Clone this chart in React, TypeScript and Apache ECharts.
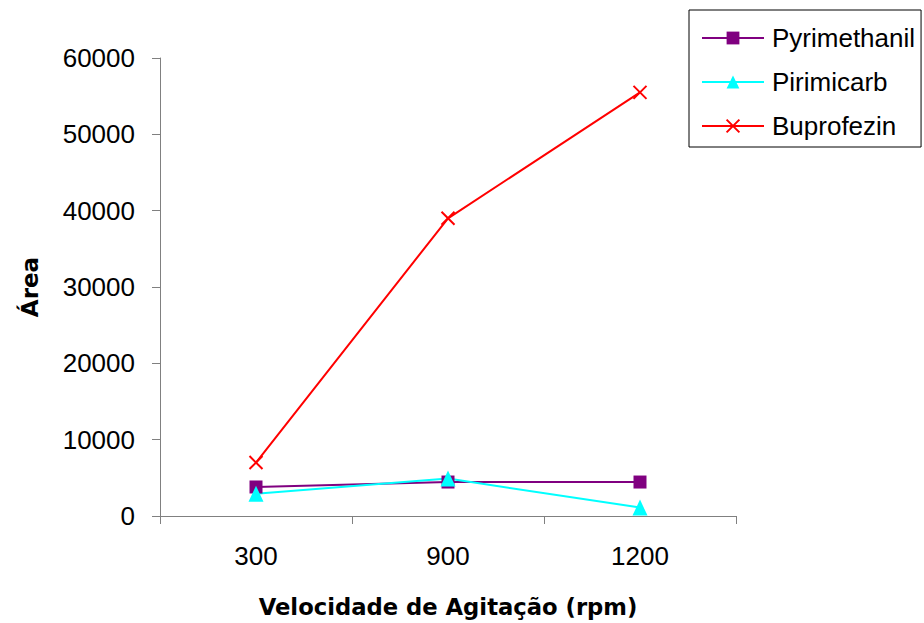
import React, { useEffect, useRef } from "react";
import * as echarts from "echarts";

const categories = ["300", "900", "1200"];
const seriesNames = ["Pyrimethanil", "Pirimicarb", "Buprofezin"];
const pyrimethanil = [3800, 4450, 4450];
const pirimicarb = [2900, 4900, 1100];
const buprofezin = [7000, 39000, 55500];
const yTicks = { min: 0, max: 60000, interval: 10000 };

const FONT = "Liberation Sans, Arial, sans-serif";
const TITLE_FONT = "DejaVu Sans, Liberation Sans, Arial, sans-serif";

export default function App() {
  const ref = useRef<HTMLDivElement>(null);
  useEffect(() => {
    if (!ref.current) return;
    const chart = echarts.init(ref.current, null, { renderer: "svg" });
    const crossPath = "path://M0,0L10,10M10,0L0,10";
    chart.setOption({
      animation: false,
      backgroundColor: "#ffffff",
      grid: { left: 160, top: 58, right: 188, bottom: 106, containLabel: false },
      legend: {
        orient: "vertical",
        left: 689,
        top: 10,
        padding: [15, 6, 8, 12],
        itemGap: 18,
        itemWidth: 62,
        itemHeight: 16,
        borderColor: "#000000",
        borderWidth: 1,
        textStyle: { fontFamily: FONT, fontSize: 26, color: "#000", padding: [0, 0, 0, 3] },
        data: seriesNames,
      },
      xAxis: {
        type: "category",
        data: categories,
        boundaryGap: true,
        name: "Velocidade de Agitação (rpm)",
        nameLocation: "middle",
        nameGap: 79,
        nameTextStyle: { fontFamily: TITLE_FONT, fontSize: 22.7, fontWeight: "bold", color: "#000" },
        axisLine: { lineStyle: { color: "#808080", width: 1 } },
        axisTick: { show: true, length: 8, lineStyle: { color: "#808080" } },
        axisLabel: { fontFamily: FONT, fontSize: 26, color: "#000", margin: 27 },
        splitLine: { show: false },
      },
      yAxis: {
        type: "value",
        min: yTicks.min,
        max: yTicks.max,
        interval: yTicks.interval,
        name: "Área",
        nameLocation: "middle",
        nameGap: 119,
        nameRotate: 90,
        nameTextStyle: { fontFamily: TITLE_FONT, fontSize: 23, fontWeight: "bold", color: "#000" },
        axisLine: { show: true, lineStyle: { color: "#808080", width: 1 } },
        axisTick: { show: true, length: 8, lineStyle: { color: "#808080" } },
        axisLabel: {
          fontFamily: FONT,
          fontSize: 26,
          color: "#000",
          margin: 25,
          formatter: (v: number) => String(v),
        },
        splitLine: { show: false },
      },
      series: [
        {
          name: seriesNames[0],
          type: "line",
          data: pyrimethanil,
          symbol: "rect",
          symbolSize: 13,
          lineStyle: { color: "#800080", width: 2 },
          itemStyle: { color: "#800080" },
        },
        {
          name: seriesNames[1],
          type: "line",
          data: pirimicarb,
          symbol: "triangle",
          symbolSize: [15, 16],
          lineStyle: { color: "#00FFFF", width: 2 },
          itemStyle: { color: "#00FFFF" },
        },
        {
          name: seriesNames[2],
          type: "line",
          data: buprofezin,
          symbol: crossPath,
          symbolSize: 13,
          lineStyle: { color: "#FF0000", width: 2 },
          itemStyle: { color: "transparent", borderColor: "#FF0000", borderWidth: 2 },
        },
      ],
    });
    return () => chart.dispose();
  }, []);
  return (
    <div
      ref={ref}
      style={{ position: "fixed", left: 0, top: 0, width: 924, height: 623 }}
    />
  );
}
